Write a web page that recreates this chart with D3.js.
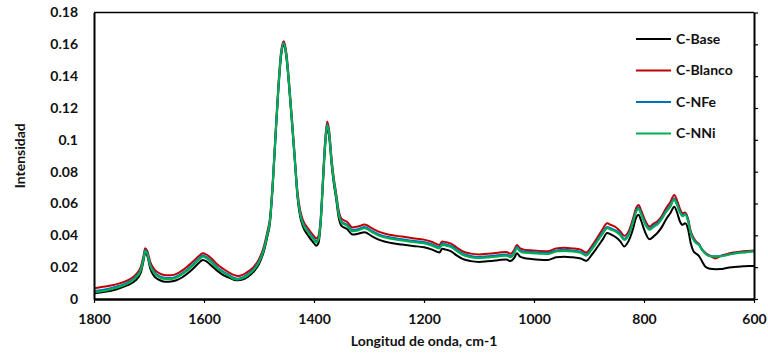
<!DOCTYPE html>
<html><head><meta charset="utf-8">
<script src="https://cdn.jsdelivr.net/npm/d3@7"></script>
<style>
html,body{margin:0;padding:0;background:#fff;}
svg text{font-family:Lato,"Open Sans",sans-serif;font-weight:bold;fill:#111;}
</style></head>
<body><svg id="chart" width="768" height="364"></svg>
<script>
const wavenumbers = [1800,1780,1760,1740,1725,1715,1710,1707,1703,1698,1690,1680,1670,1660,1650,1640,1630,1620,1610,1602,1595,1585,1575,1565,1555,1545,1538,1530,1520,1510,1500,1492,1485,1480,1475,1470,1465,1460,1455,1450,1445,1440,1435,1430,1425,1420,1410,1400,1396,1392,1388,1384,1380,1376,1372,1368,1364,1360,1355,1350,1340,1330,1320,1308,1295,1280,1260,1240,1220,1200,1185,1172,1167,1160,1150,1140,1130,1115,1100,1085,1070,1060,1050,1043,1036,1031,1026,1018,1005,990,975,960,945,930,915,905,895,885,875,867,860,850,843,836,828,820,815,810,805,798,790,782,775,768,760,752,745,740,735,730,725,720,715,710,705,700,695,690,685,680,670,660,650,640,630,620,610,600];

const cBase = [0.0036,0.0045,0.0060,0.0085,0.0115,0.0165,0.0240,0.0290,0.0270,0.0195,0.0140,0.0118,0.0108,0.0110,0.0118,0.0135,0.0160,0.0190,0.0225,0.0245,0.0235,0.0205,0.0175,0.0150,0.0135,0.0120,0.0118,0.0122,0.0140,0.0170,0.0220,0.0290,0.0390,0.0480,0.0710,0.1010,0.1300,0.1520,0.1595,0.1510,0.1320,0.1100,0.0870,0.0640,0.0515,0.0455,0.0395,0.0350,0.0335,0.0350,0.0465,0.0705,0.0945,0.1075,0.1005,0.0845,0.0725,0.0635,0.0510,0.0460,0.0440,0.0405,0.0410,0.0420,0.0395,0.0370,0.0352,0.0342,0.0333,0.0325,0.0310,0.0292,0.0315,0.0310,0.0298,0.0272,0.0252,0.0238,0.0233,0.0237,0.0242,0.0246,0.0248,0.0238,0.0258,0.0288,0.0268,0.0258,0.0252,0.0247,0.0245,0.0262,0.0266,0.0262,0.0255,0.0240,0.0278,0.0325,0.0375,0.0415,0.0405,0.0385,0.0362,0.0330,0.0365,0.0440,0.0505,0.0530,0.0490,0.0420,0.0375,0.0395,0.0418,0.0450,0.0500,0.0540,0.0580,0.0545,0.0490,0.0466,0.0476,0.0440,0.0350,0.0300,0.0285,0.0270,0.0240,0.0210,0.0195,0.0190,0.0187,0.0188,0.0195,0.0200,0.0203,0.0205,0.0207,0.0208];

const cBlanco = [0.0067,0.0078,0.0092,0.0115,0.0150,0.0200,0.0270,0.0319,0.0300,0.0235,0.0185,0.0160,0.0150,0.0150,0.0158,0.0178,0.0205,0.0235,0.0268,0.0288,0.0278,0.0250,0.0215,0.0190,0.0168,0.0150,0.0145,0.0152,0.0172,0.0200,0.0250,0.0320,0.0420,0.0510,0.0740,0.1040,0.1330,0.1550,0.1620,0.1540,0.1350,0.1130,0.0900,0.0675,0.0555,0.0495,0.0440,0.0395,0.0380,0.0395,0.0500,0.0740,0.0985,0.1115,0.1045,0.0880,0.0760,0.0670,0.0555,0.0505,0.0485,0.0450,0.0455,0.0468,0.0445,0.0420,0.0402,0.0392,0.0382,0.0373,0.0358,0.0340,0.0362,0.0357,0.0347,0.0322,0.0300,0.0285,0.0280,0.0284,0.0289,0.0293,0.0295,0.0285,0.0308,0.0340,0.0320,0.0310,0.0306,0.0302,0.0300,0.0318,0.0322,0.0318,0.0310,0.0292,0.0332,0.0385,0.0440,0.0476,0.0465,0.0448,0.0425,0.0397,0.0425,0.0505,0.0565,0.0590,0.0555,0.0495,0.0455,0.0475,0.0490,0.0520,0.0570,0.0610,0.0654,0.0620,0.0570,0.0540,0.0543,0.0505,0.0425,0.0385,0.0360,0.0345,0.0315,0.0295,0.0280,0.0272,0.0255,0.0272,0.0282,0.0290,0.0295,0.0300,0.0302,0.0304];

const cNFe = [0.0050,0.0060,0.0077,0.0102,0.0137,0.0187,0.0258,0.0308,0.0288,0.0218,0.0168,0.0142,0.0132,0.0132,0.0142,0.0162,0.0187,0.0218,0.0253,0.0273,0.0263,0.0232,0.0197,0.0172,0.0152,0.0132,0.0128,0.0136,0.0157,0.0187,0.0237,0.0307,0.0407,0.0497,0.0727,0.1027,0.1317,0.1537,0.1610,0.1527,0.1337,0.1117,0.0887,0.0658,0.0538,0.0478,0.0423,0.0378,0.0363,0.0378,0.0488,0.0728,0.0968,0.1100,0.1028,0.0868,0.0748,0.0658,0.0538,0.0488,0.0468,0.0433,0.0438,0.0453,0.0428,0.0403,0.0386,0.0376,0.0366,0.0358,0.0343,0.0326,0.0348,0.0343,0.0333,0.0308,0.0286,0.0270,0.0264,0.0268,0.0273,0.0278,0.0280,0.0270,0.0293,0.0328,0.0308,0.0298,0.0295,0.0292,0.0289,0.0305,0.0309,0.0305,0.0297,0.0279,0.0318,0.0368,0.0419,0.0453,0.0443,0.0428,0.0408,0.0378,0.0408,0.0488,0.0548,0.0573,0.0538,0.0478,0.0443,0.0463,0.0478,0.0508,0.0553,0.0588,0.0632,0.0598,0.0553,0.0528,0.0536,0.0496,0.0416,0.0375,0.0354,0.0343,0.0312,0.0292,0.0277,0.0270,0.0268,0.0270,0.0277,0.0284,0.0290,0.0294,0.0297,0.0300];

const cNNi = [0.0042,0.0052,0.0070,0.0095,0.0130,0.0180,0.0250,0.0300,0.0280,0.0210,0.0160,0.0135,0.0125,0.0125,0.0135,0.0155,0.0180,0.0210,0.0245,0.0265,0.0255,0.0225,0.0190,0.0165,0.0145,0.0125,0.0122,0.0130,0.0150,0.0180,0.0230,0.0300,0.0400,0.0490,0.0720,0.1020,0.1310,0.1530,0.1605,0.1520,0.1330,0.1110,0.0880,0.0650,0.0530,0.0470,0.0415,0.0370,0.0355,0.0370,0.0480,0.0720,0.0960,0.1090,0.1020,0.0860,0.0740,0.0650,0.0530,0.0480,0.0460,0.0425,0.0430,0.0445,0.0420,0.0395,0.0378,0.0368,0.0358,0.0350,0.0335,0.0318,0.0340,0.0335,0.0325,0.0300,0.0278,0.0262,0.0256,0.0260,0.0265,0.0270,0.0272,0.0262,0.0285,0.0320,0.0300,0.0290,0.0288,0.0285,0.0282,0.0298,0.0302,0.0298,0.0290,0.0272,0.0310,0.0360,0.0410,0.0445,0.0435,0.0420,0.0400,0.0370,0.0400,0.0480,0.0540,0.0565,0.0530,0.0470,0.0435,0.0455,0.0470,0.0500,0.0545,0.0580,0.0623,0.0590,0.0545,0.0520,0.0530,0.0490,0.0410,0.0370,0.0350,0.0340,0.0310,0.0290,0.0275,0.0268,0.0265,0.0268,0.0275,0.0282,0.0288,0.0292,0.0295,0.0298];

const seriesNames = ["C-Base","C-Blanco","C-NFe","C-NNi"];
const seriesColors = ["#000000","#C00000","#0070C0","#00B050"];
const seriesValues = [cBase, cBlanco, cNFe, cNNi];

const xTicks = [1800,1600,1400,1200,1000,800,600];
const yTicks = [0,0.02,0.04,0.06,0.08,0.1,0.12,0.14,0.16,0.18];
const yTickLabels = ["0","0.02","0.04","0.06","0.08","0.1","0.12","0.14","0.16","0.18"];
const xTitle = "Longitud de onda, cm-1";
const yTitle = "Intensidad";

const svg = d3.select("#chart");
const L = 94, R = 754, T = 12.5, B = 299;
const x = d3.scaleLinear().domain([1800,600]).range([L,R]);
const y = d3.scaleLinear().domain([0,0.18]).range([B,T]);

// frame top line
svg.append("line").attr("x1",L).attr("x2",R).attr("y1",T).attr("y2",T)
  .attr("stroke","#000").attr("stroke-width",1.5);

// series
const line = d3.line().curve(d3.curveMonotoneX);
seriesValues.forEach((vals,i)=>{
  const pts = wavenumbers.map((w,j)=>[x(w), y(vals[j])]);
  svg.append("path").attr("d", line(pts)).attr("fill","none")
    .attr("stroke", seriesColors[i]).attr("stroke-width",2).attr("stroke-linejoin","round");
});

// left axis
const yAxisL = d3.axisLeft(y).tickValues(yTicks).tickSize(0).tickPadding(16)
  .tickFormat((d,i)=>yTickLabels[i]);
const gL = svg.append("g").attr("transform",`translate(${L},0)`).call(yAxisL);
gL.select(".domain").attr("stroke","#000").attr("stroke-width",2);
gL.selectAll("text").style("font-size","14px").style("font-family","Lato").style("font-weight","bold").attr("fill","#111");

// right axis with outward ticks, no labels
const yAxisR = d3.axisRight(y).tickValues(yTicks).tickSize(4).tickSizeOuter(0).tickFormat("");
const gR = svg.append("g").attr("transform",`translate(${R},0)`).call(yAxisR);
gR.select(".domain").attr("stroke","#000").attr("stroke-width",2);
gR.selectAll(".tick line").attr("stroke","#000").attr("stroke-width",1.2);

// bottom axis
const xAxis = d3.axisBottom(x).tickValues(xTicks).tickSize(4).tickSizeOuter(0).tickPadding(11)
  .tickFormat(d3.format("d"));
const gB = svg.append("g").attr("transform",`translate(0,${B})`).call(xAxis);
gB.select(".domain").attr("stroke","#000").attr("stroke-width",2.5);
gB.selectAll(".tick line").attr("stroke","#000").attr("stroke-width",1.2);
gB.selectAll("text").style("font-size","14px").style("font-family","Lato").style("font-weight","bold").attr("fill","#111");

// axis titles
svg.append("text").attr("x",(L+R)/2).attr("y",346).attr("text-anchor","middle")
  .style("font-size","14px").text(xTitle);
svg.append("text").attr("transform",`translate(25,${(T+B)/2}) rotate(-90)`).attr("text-anchor","middle")
  .style("font-size","14px").text(yTitle);

// legend
const legY = [39, 70.5, 102, 133.5];
seriesNames.forEach((n,i)=>{
  svg.append("line").attr("x1",636).attr("x2",671).attr("y1",legY[i]).attr("y2",legY[i])
    .attr("stroke",seriesColors[i]).attr("stroke-width",2);
  svg.append("text").attr("x",676).attr("y",legY[i]).attr("dy","0.35em")
    .style("font-size","14px").text(n);
});
</script></body></html>
